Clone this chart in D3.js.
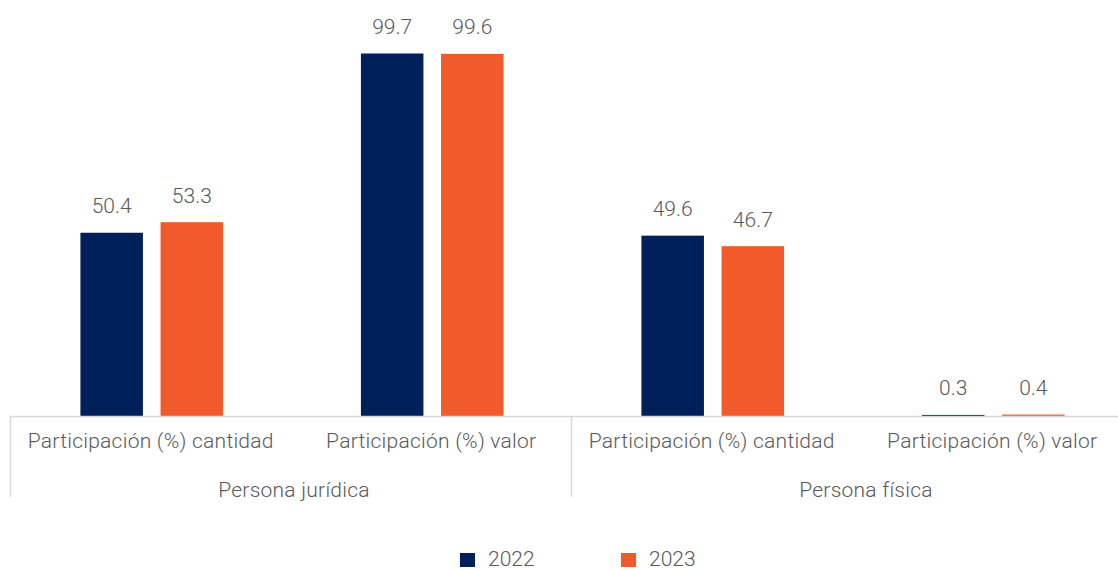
<!DOCTYPE html>
<html><head><meta charset="utf-8">
<script src="https://cdn.jsdelivr.net/npm/d3@7"></script>
<style>
body{margin:0;background:#fff;}
text{font-family:Roboto,"Liberation Sans",sans-serif;font-weight:300;fill:#595959;}
</style></head>
<body><svg id="c" width="1118" height="570"></svg>
<script>
const groups = ["Persona jurídica", "Persona física"];
const measures = ["Participación (%) cantidad", "Participación (%) valor"];
const years = ["2022", "2023"];
const values2022 = [50.4, 99.7, 49.6, 0.3];
const values2023 = [53.3, 99.6, 46.7, 0.4];
const colors = ["#00205B", "#F15A2B"];

const svg = d3.select("#c");
const cats = [];
groups.forEach(g => measures.forEach(m => cats.push(g + "|" + m)));
const series = [values2022, values2023];

const x0 = d3.scaleBand().domain(cats).range([11.5, 1133.5]).paddingInner(0).paddingOuter(0);
const x1 = d3.scaleBand().domain(years).range([0, x0.bandwidth()]).paddingInner(0.22).paddingOuter(0.86);
const y = d3.scaleLinear().domain([0, 100]).range([416, 52.4]);

// bars
years.forEach((yr, si) => {
  svg.append("g").selectAll("rect").data(cats).join("rect")
    .attr("x", d => x0(d) + x1(yr))
    .attr("width", x1.bandwidth())
    .attr("y", (d, i) => y(series[si][i]))
    .attr("height", (d, i) => y(0) - y(series[si][i]))
    .attr("fill", colors[si]);
  svg.append("g").selectAll("text").data(cats).join("text")
    .attr("x", d => x0(d) + x1(yr) + x1.bandwidth() / 2)
    .attr("y", (d, i) => y(series[si][i]) - 19.5)
    .attr("text-anchor", "middle")
    .attr("font-size", 21)
    .text((d, i) => series[si][i].toFixed(1));
});

// axis line
svg.append("line").attr("x1", 10).attr("x2", 1118).attr("y1", y(0) + 0.5).attr("y2", y(0) + 0.5)
  .attr("stroke", "#d9d9d9").attr("stroke-width", 1.5);
// group separators
const gx = d3.scaleBand().domain(groups).range([11.5, 1133.5]);
const seps = [gx(groups[0]), gx(groups[1]), gx(groups[1]) + gx.bandwidth()];
svg.append("g").selectAll("line").data(seps).join("line")
  .attr("x1", d => Math.round(d) - 1.5).attr("x2", d => Math.round(d) - 1.5)
  .attr("y1", y(0)).attr("y2", 497)
  .attr("stroke", "#d9d9d9").attr("stroke-width", 1.5);

// category labels
svg.append("g").selectAll("text").data(cats).join("text")
  .attr("x", d => x0(d) + x0.bandwidth() / 2 - 1)
  .attr("y", 448)
  .attr("text-anchor", "middle")
  .attr("font-size", 21)
  .attr("letter-spacing", 0.25)
  .text(d => d.split("|")[1]);
// group labels
const groupShift = [2, 13];
svg.append("g").selectAll("text").data(groups).join("text")
  .attr("x", (d, i) => gx(d) + gx.bandwidth() / 2 + groupShift[i])
  .attr("y", 497)
  .attr("text-anchor", "middle")
  .attr("font-size", 21)
  .attr("letter-spacing", 0.25)
  .text(d => d);

// legend
const legX = [460, 621];
years.forEach((yr, i) => {
  svg.append("rect").attr("x", legX[i]).attr("y", 553).attr("width", 15).attr("height", 14).attr("fill", colors[i]);
  svg.append("text").attr("x", legX[i] + 28).attr("y", 566).attr("font-size", 21).text(yr);
});
</script></body></html>
